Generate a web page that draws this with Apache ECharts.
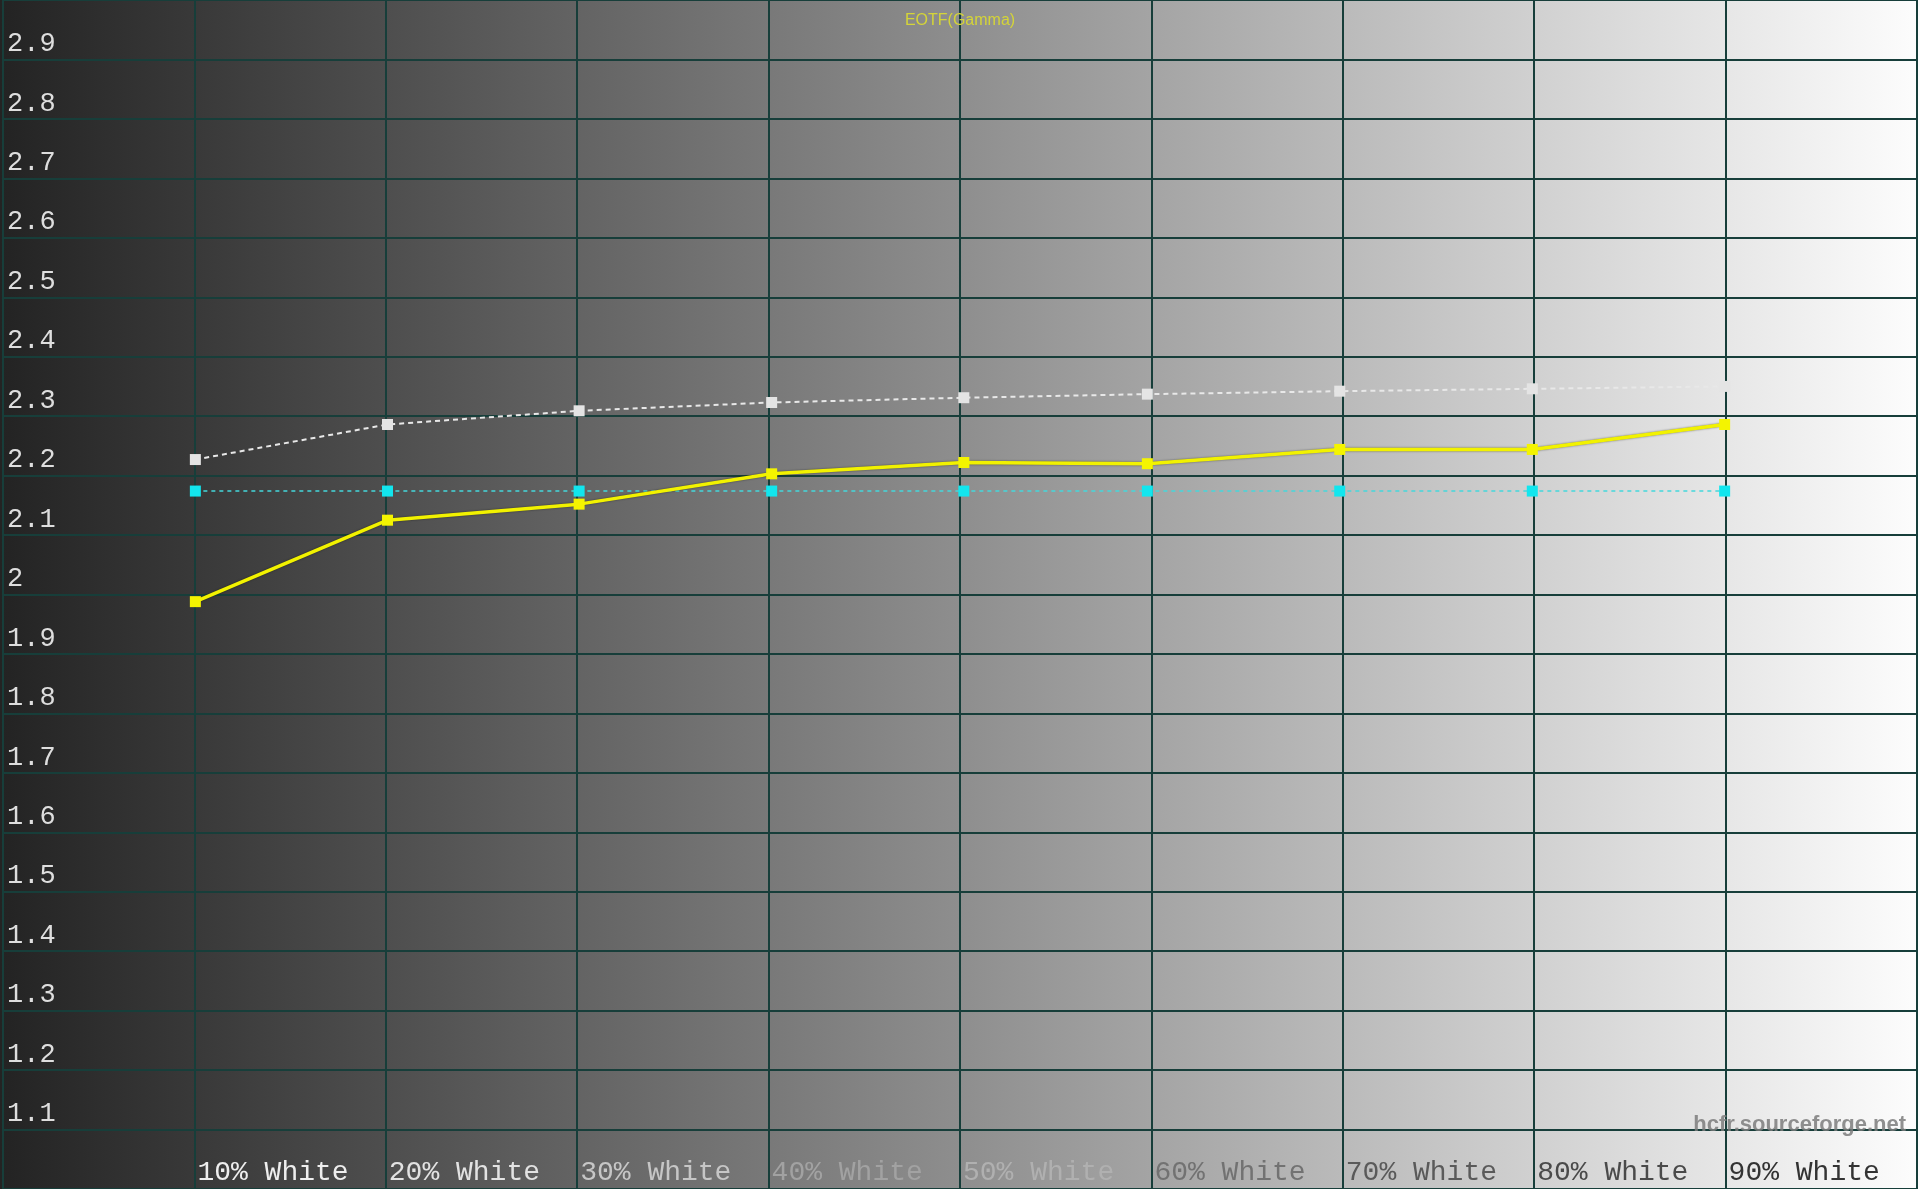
<!DOCTYPE html>
<html>
<head>
<meta charset="utf-8">
<script src="https://cdn.jsdelivr.net/npm/echarts@6/dist/echarts.min.js"></script>
<style>
  html, body { margin: 0; padding: 0; width: 100%; height: 100%; overflow: hidden; }
  #chart { width: 1920px; height: 1189px; }
</style>
</head>
<body>
<div id="chart"></div>
<script>
// ---- data ----
const xTickLabels = ['10% White', '20% White', '30% White', '40% White', '50% White',
                     '60% White', '70% White', '80% White', '90% White'];
const pointX = [10.05, 20.09, 30.1, 40.16, 50.2, 59.79, 69.84, 79.9, 89.95];
const measuredGamma = [1.988, 2.125, 2.152, 2.203, 2.222, 2.220, 2.244, 2.244, 2.286];
const targetGamma   = [2.174, 2.174, 2.174, 2.174, 2.174, 2.174, 2.174, 2.174, 2.174];
const referenceGamma = [2.227, 2.286, 2.309, 2.323, 2.331, 2.337, 2.342, 2.346, 2.350];
const chartTitle = 'EOTF(Gamma)';
const watermark = 'hcfr.sourceforge.net';

// ---- styles ----
const labelColors = ['#eeeeee', '#e2e2e2', '#c6c6c6', '#a2a2a2', '#b0b0b0',
                     '#727272', '#5a5a5a', '#4a4a4a', '#333333'];
const gridColor = '#173e3a';

function pairs(ys) { return ys.map((y, i) => [pointX[i], y]); }

const chart = echarts.init(document.getElementById('chart'));
chart.setOption({
  animation: false,
  backgroundColor: {
    type: 'linear', x: 0, y: 0, x2: 1, y2: 0,
    colorStops: [
      { offset: 0, color: '#232323' },
      { offset: 0.5, color: '#8e8e8e' },
      { offset: 1, color: '#fdfdfd' }
    ]
  },
  title: {
    text: chartTitle,
    left: 'center',
    top: 8,
    textStyle: { color: '#d4d438', fontSize: 16, fontWeight: 'normal', fontFamily: 'Liberation Sans, Arial, sans-serif' }
  },
  grid: { left: 0, right: 0, top: 0, bottom: 0, containLabel: false },
  xAxis: {
    type: 'value',
    min: 0, max: 100, interval: 10,
    axisLine: { show: false },
    axisTick: { show: false },
    splitLine: { show: true, lineStyle: { color: gridColor, width: 2 } },
    axisLabel: {
      inside: true,
      margin: 2,
      align: 'left',
      verticalAlign: 'bottom',
      padding: [0, 0, 0, 3],
      fontFamily: 'Liberation Mono, monospace',
      fontSize: 28,
      formatter: v => {
        const i = Math.round(v / 10) - 1;
        return (i >= 0 && i < xTickLabels.length) ? xTickLabels[i] : '';
      },
      color: v => {
        const i = Math.round(v / 10) - 1;
        return labelColors[Math.max(0, Math.min(labelColors.length - 1, i))];
      }
    }
  },
  yAxis: {
    type: 'value',
    min: 1, max: 3, interval: 0.1,
    axisLine: { show: false },
    axisTick: { show: false },
    splitLine: { show: true, lineStyle: { color: gridColor, width: 2 } },
    axisLabel: {
      inside: true,
      margin: 4,
      verticalAlign: 'bottom',
      padding: [0, 0, 2, 0],
      showMinLabel: false,
      showMaxLabel: false,
      color: '#dedede',
      fontFamily: 'Liberation Mono, monospace',
      fontSize: 27
    }
  },
  graphic: [{
    type: 'text',
    right: 14,
    top: 1114,
    z: 10,
    style: {
      text: watermark,
      fill: 'rgba(125,125,125,0.85)',
      font: 'bold 22px "Liberation Sans", Arial, sans-serif'
    }
  }],
  series: [
    {
      name: 'Reference',
      type: 'line',
      data: pairs(referenceGamma),
      symbol: 'rect',
      symbolSize: 11,
      itemStyle: { color: '#e4e4e4' },
      lineStyle: { color: '#e8e8e8', width: 2, type: [5, 4] },
      z: 3
    },
    {
      name: 'Target',
      type: 'line',
      data: pairs(targetGamma),
      symbol: 'rect',
      symbolSize: 11,
      itemStyle: { color: '#12e6ee' },
      lineStyle: { color: '#44d8dc', width: 1.5, type: [4, 4] },
      z: 4
    },
    {
      name: 'Measured',
      type: 'line',
      data: pairs(measuredGamma),
      symbol: 'rect',
      symbolSize: 11,
      itemStyle: { color: '#f4f400' },
      lineStyle: { color: '#f2f200', width: 3.5, shadowColor: 'rgba(0,0,0,0.5)', shadowBlur: 2 },
      z: 5
    }
  ]
});
</script>
</body>
</html>
